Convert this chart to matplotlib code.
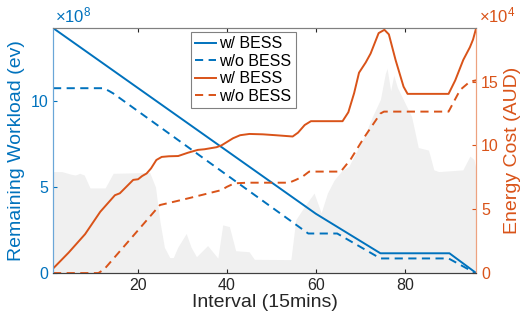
import matplotlib
matplotlib.use("Agg")
import matplotlib.pyplot as plt

plt.rcParams['font.family'] = ['Liberation Sans', 'DejaVu Sans']
plt.rcParams['mathtext.default'] = 'regular'

BLUE = '#0072BD'
ORANGE = '#D95319'

# remaining workload (x1e8)
wl_bess_x = [1, 60, 74.5, 90, 96]
wl_bess_y = [14.25, 3.45, 1.15, 1.15, 0]
wl_nobess_x = [1, 12.3, 13.5, 14.5, 58.3, 64.8, 74.5, 89.8, 95.8]
wl_nobess_y = [10.75, 10.75, 10.6, 10.45, 2.3, 2.3, 0.85, 0.85, 0]

# energy cost (x1e4 AUD)
cost_bess_x = [1, 4.5, 8.2, 11.6, 14.9, 16, 17, 19, 20.1, 21, 22, 23, 24.2, 25.4, 27,
               29.1, 31.3, 33.5, 35, 37.7, 38.8, 41.4, 43, 45.1, 48.1, 51, 54.8, 56,
               57.5, 58.9, 66, 67.3, 68.6, 69.7, 71.2, 72.3, 74.1, 75.4, 76.4, 77.9,
               79.7, 80.6, 89.8, 91.3, 93.1, 94.6, 95.3, 96]
cost_bess_y = [0.35, 1.6, 3.05, 4.8, 6.1, 6.25, 6.6, 7.3, 7.35, 7.6, 7.8, 8.2, 8.86, 9.1,
               9.15, 9.17, 9.43, 9.65, 9.7, 9.86, 10.0, 10.56, 10.8, 10.9, 10.87, 10.8,
               10.7, 11.0, 11.6, 11.9, 11.9, 12.6, 14.1, 15.7, 16.5, 17.2, 18.8, 19.06,
               18.7, 16.7, 14.6, 14.04, 14.04, 15.1, 16.7, 17.7, 18.3, 19.2]
cost_nobess_x = [1, 11.2, 12.5, 25, 28.3, 31.3, 35, 38.8, 40, 41.7, 44.7, 54, 55.5, 57,
                 58.5, 65.6, 67.8, 70.8, 74.5, 75.3, 89.8, 92.4, 94.6, 96]
cost_nobess_y = [0, 0, 0.3, 5.33, 5.6, 5.85, 6.17, 6.5, 6.75, 7.03, 7.08, 7.08, 7.3, 7.55,
                 7.95, 7.95, 8.9, 10.6, 12.5, 12.65, 12.65, 14.35, 15.0, 15.1]

# grey background profile (drawn in left-axis units)
bg_x = [1, 3, 5, 6, 7, 8, 9.3, 12.7, 14.5, 22.7, 24, 25, 26, 27.2, 28, 29, 30.9, 32,
        33.2, 35.7, 38, 39.1, 40.6, 42, 45, 46.2, 54.4, 55.5, 57.4, 59.6, 61.2, 62.6,
        64.1, 66, 67.4, 69.3, 70.8, 72.7, 74.5, 75.6, 76, 76.8, 77.5, 78.3, 80, 81.5,
        83, 85.3, 86.5, 87.6, 93, 94.6, 95.5, 96]
bg_y = [5.9, 5.9, 5.75, 5.7, 5.8, 5.7, 4.95, 4.95, 5.8, 5.85, 5.0, 3.0, 1.5, 0.9, 0.9,
        1.5, 2.3, 1.5, 0.95, 1.6, 0.87, 2.8, 2.7, 1.3, 1.24, 0.8, 0.78, 3.1, 3.85, 4.65,
        3.5, 4.65, 5.4, 6.0, 6.2, 7.15, 7.9, 9.1, 10.1, 11.6, 11.9, 10.6, 11.5, 10.8,
        9.9, 9.1, 7.3, 7.15, 6.0, 5.9, 6.0, 6.8, 6.6, 6.0]

fig = plt.figure(figsize=(5.25, 3.22), dpi=100)
ax = fig.add_axes([0.101, 0.152, 0.806, 0.761])
ax2 = ax.twinx()

ax.fill_between(bg_x, bg_y, 0, color='#f0f0f0', lw=0, zorder=0)
l1, = ax.plot(wl_bess_x, wl_bess_y, color=BLUE, lw=1.4, label='w/ BESS')
l2, = ax.plot(wl_nobess_x, wl_nobess_y, color=BLUE, lw=1.4, ls=(0, (4.2, 2.8)), label='w/o BESS')
l3, = ax2.plot(cost_bess_x, cost_bess_y, color=ORANGE, lw=1.4, label='w/ BESS')
l4, = ax2.plot(cost_nobess_x, cost_nobess_y, color=ORANGE, lw=1.4, ls=(0, (4.2, 2.8)), label='w/o BESS')

ax.set_xlim(1, 96)
ax.set_ylim(0, 14.25)
ax2.set_ylim(0, 19.2)
ax.set_xticks([20, 40, 60, 80])
ax.set_yticks([0, 5, 10])
ax2.set_yticks([0, 5, 10, 15])

ax.tick_params(axis='x', direction='in', top=True, labelsize=11.5, colors='#262626', length=3)
ax.tick_params(axis='y', direction='in', labelsize=11.5, colors=BLUE, length=3)
ax2.tick_params(axis='y', direction='in', labelsize=11.5, colors=ORANGE, length=3)

for a in (ax, ax2):
    for s in a.spines.values():
        s.set_linewidth(0.8)
    a.spines['top'].set_color('#808080')
    a.spines['bottom'].set_color('#404040')
    a.spines['left'].set_color('#6aa6d8')
    a.spines['right'].set_color('#eda27f')

ax.set_xlabel('Interval (15mins)', fontsize=14, color='#262626', labelpad=1)
ax.set_ylabel('Remaining Workload (ev)', fontsize=14, color=BLUE, labelpad=4)
ax2.set_ylabel('Energy Cost (AUD)', fontsize=14, color=ORANGE, labelpad=4)

fig.text(0.104, 0.93, r'×10$^{8}$', color=BLUE, fontsize=12)
fig.text(0.912, 0.93, r'×10$^{4}$', color=ORANGE, fontsize=12)

leg = ax2.legend([l1, l2, l3, l4], ['w/ BESS', 'w/o BESS', 'w/ BESS', 'w/o BESS'],
                 loc='upper center', bbox_to_anchor=(0.45, 0.985), fontsize=11.5,
                 handlelength=1.3, handletextpad=0.2, labelspacing=0.15,
                 borderpad=0.3, borderaxespad=0, fancybox=False, framealpha=1)
leg.get_frame().set_edgecolor('#808080')
leg.get_frame().set_linewidth(0.8)

fig.savefig('out.png', dpi=100)
